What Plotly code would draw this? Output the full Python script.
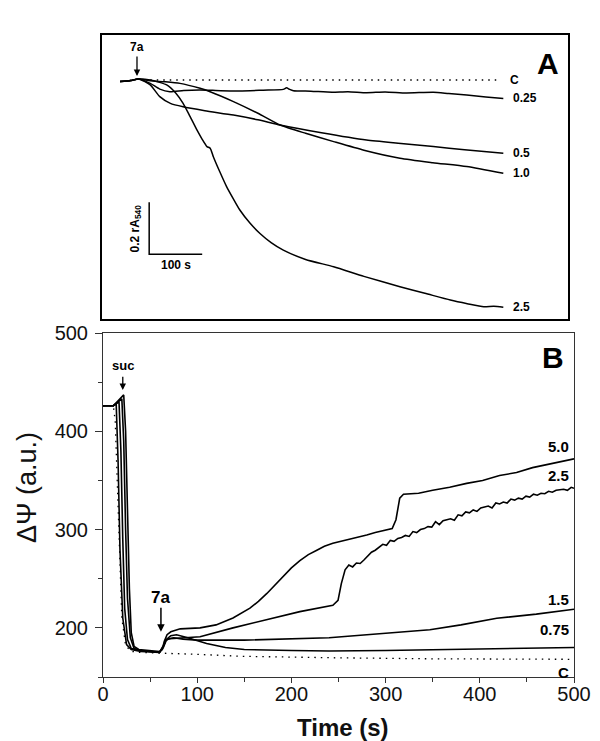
import plotly.graph_objects as go

FONT = "Arial, 'Liberation Sans', sans-serif"

# ---------------- Panel A data (time s, rA540 relative to control) ----------------
a_c_t = [57, 717]
a_c_y = [0.0, 0.0]

a_025_t = [0, 20, 35, 57, 75, 94, 120, 151, 190, 226, 270, 308, 314, 320, 327, 360, 400, 430, 465, 500, 540, 591, 620, 654, 690, 723]
a_025_y = [-0.006, -0.002, 0.004, -0.013, -0.035, -0.045, -0.040, -0.038, -0.041, -0.042, -0.039, -0.036, -0.030, -0.036, -0.041, -0.043, -0.047, -0.045, -0.049, -0.046, -0.050, -0.047, -0.052, -0.058, -0.065, -0.071]

a_05_t = [0, 20, 35, 57, 75, 95, 119, 160, 214, 260, 302, 380, 465, 530, 591, 650, 723]
a_05_y = [-0.006, -0.002, 0.004, -0.019, -0.064, -0.090, -0.103, -0.118, -0.135, -0.153, -0.173, -0.203, -0.231, -0.244, -0.256, -0.268, -0.282]

a_10_t = [0, 20, 35, 57, 85, 113, 151, 170, 214, 260, 302, 350, 403, 460, 528, 590, 654, 723]
a_10_y = [-0.006, -0.002, 0.004, -0.003, -0.007, -0.013, -0.032, -0.045, -0.083, -0.128, -0.173, -0.205, -0.237, -0.270, -0.301, -0.318, -0.333, -0.359]

a_25_t = [0, 20, 35, 57, 88, 105, 119, 132, 145, 155, 164, 170, 176, 188, 201, 214, 226, 245, 264, 285, 308, 350, 403, 460, 528, 575, 623, 655, 686, 705, 723]
a_25_y = [-0.006, -0.002, 0.004, 0.000, -0.019, -0.050, -0.090, -0.140, -0.192, -0.228, -0.256, -0.262, -0.295, -0.352, -0.410, -0.458, -0.500, -0.550, -0.590, -0.625, -0.654, -0.690, -0.718, -0.755, -0.795, -0.820, -0.846, -0.860, -0.872, -0.870, -0.874]

a_series = [("C", a_c_t, a_c_y, True), ("0.25", a_025_t, a_025_y, False),
            ("0.5", a_05_t, a_05_y, False), ("1.0", a_10_t, a_10_y, False),
            ("2.5", a_25_t, a_25_y, False)]

scale_t0, scale_len_t = 55, 100      # 100 s bar
scale_y0, scale_len_y = -0.67, 0.2   # 0.2 rA540 bar

# ---------------- Panel B data (time s, delta psi a.u.) ----------------
b_50_t = [0, 11, 22, 24, 26, 28, 30, 33, 38, 50, 60, 63, 65, 68, 72, 82, 103, 120, 138, 156, 165, 174, 183, 191, 200, 209, 218, 227, 235, 244, 253, 262, 271, 280, 289, 297, 307, 311, 315, 319, 335, 350, 368, 386, 403, 421, 439, 456, 470, 485, 500]
b_50_v = [426, 426, 437, 400, 320, 240, 195, 181, 178, 177, 176, 178, 186, 193, 196, 199, 200, 203, 210, 220, 227, 235, 244, 253, 261, 268.5, 274.5, 279, 283, 286, 288, 290, 292, 294.5, 297, 299, 301, 310, 332, 336, 337, 340, 343, 347, 350, 355, 358, 363, 366, 369, 372]

b_25_t = [0, 11, 20, 22, 24, 26, 29, 33, 40, 50, 60, 64, 67, 71, 103, 138, 174, 209, 244, 249.5, 253,
          257, 261, 265, 269, 273, 277, 281, 285, 289, 293, 297, 301, 305, 309, 313, 317, 321, 325, 329, 333,
          337, 341, 345, 349, 353, 357, 361, 365, 369, 373, 377, 381, 385, 389, 393, 397, 401, 405, 409, 413,
          417, 421, 425, 429, 433, 437, 441, 445, 449, 453, 457, 461, 465, 469, 473, 477, 481, 485, 489, 493, 497, 500]
b_25_v = [426, 426, 433, 390, 300, 230, 190, 179, 177, 176, 175, 181, 188, 189, 191, 200, 208, 216.5, 223, 228, 245,
          259, 264, 262, 266, 265.5, 269, 273, 277, 279, 282, 285, 284, 289, 288, 291, 292, 294, 293, 298, 297,
          300, 301, 303, 302.5, 308, 305, 309, 310, 311, 309.5, 315, 314, 318, 317, 320, 318.5, 322, 323, 324, 322,
          327, 326, 328, 327, 331, 330, 332, 331, 334, 333, 336, 335, 337, 336.5, 339, 338, 340, 340.5, 341, 340, 343, 342]

b_15_t = [0, 11, 17, 19, 21, 23, 26, 30, 40, 50, 60, 64, 67, 70, 75, 85, 100, 150, 200, 240, 280, 320, 347, 380, 418, 460, 500]
b_15_v = [426, 426, 430, 380, 290, 220, 188, 179, 177, 176, 175, 180, 187, 189, 190, 188.5, 187.5, 187.5, 188.5, 190, 193, 196, 198, 203, 209.7, 214, 219]

b_075_t = [0, 11, 14, 16, 18, 21, 25, 30, 40, 50, 60, 64, 67, 72, 78, 90, 110, 130, 150, 200, 240, 300, 400, 500]
b_075_v = [426, 426, 428, 370, 280, 210, 183, 178, 176, 175.5, 175, 182, 188, 192, 193, 190, 184, 180, 178, 177, 176.5, 177, 178.5, 180]

b_c_t = [0, 11, 13, 15, 17, 20, 24, 30, 40, 60, 70, 100, 150, 250, 350, 500]
b_c_v = [426, 426, 410, 350, 280, 210, 182, 176, 175, 174, 174, 173, 171, 169.5, 168.5, 168]

b_series = [("5.0", b_50_t, b_50_v, False, 7), ("2.5", b_25_t, b_25_v, False, 7),
            ("1.5", b_15_t, b_15_v, False, 4), ("0.75", b_075_t, b_075_v, False, 13),
            ("C", b_c_t, b_c_v, True, -8)]

x_ticks = [0, 100, 200, 300, 400, 500]
y_ticks = [200, 300, 400, 500]

DOT = "1.5px,5px"

# page geometry (browser body has an 8px margin)
W, H, OFF = 592, 733, 8


def px(x):
    return (x - OFF) / W


def py(y):
    return 1 - (y - OFF) / H


fig = go.Figure()

# Panel A traces
for name, t, y, dotted in a_series:
    fig.add_trace(go.Scatter(
        x=t, y=y, mode="lines", xaxis="x2", yaxis="y2", showlegend=False,
        line=dict(color="black", width=1.3 if dotted else 1.5, dash=DOT if dotted else "solid",
                  shape="linear" if dotted else "spline", smoothing=0.6)))
    fig.add_annotation(x=t[-1], y=y[-1], xref="x2", yref="y2", text="<b>%s</b>" % name,
                       showarrow=False, xanchor="left", yanchor="middle", xshift=8,
                       font=dict(family=FONT, size=12, color="black"))

# scale bar
fig.add_trace(go.Scatter(
    x=[scale_t0, scale_t0, scale_t0 + scale_len_t],
    y=[scale_y0 + scale_len_y, scale_y0, scale_y0],
    mode="lines", xaxis="x2", yaxis="y2", showlegend=False,
    line=dict(color="black", width=1.5)))
fig.add_annotation(x=scale_t0, y=scale_y0 + scale_len_y / 2, xref="x2", yref="y2",
                   text="<b>0.2 rA<sub>540</sub></b>", textangle=-90, showarrow=False,
                   xanchor="right", xshift=-3, font=dict(family=FONT, size=12, color="black"))
fig.add_annotation(x=scale_t0 + scale_len_t / 2, y=scale_y0, xref="x2", yref="y2",
                   text="<b>100 s</b>", showarrow=False, yanchor="top", yshift=-2,
                   font=dict(family=FONT, size=12, color="black"))

# 7a arrow panel A
fig.add_annotation(x=32, y=0.015, ax=32, ay=0.096, xref="x2", yref="y2", axref="x2", ayref="y2",
                   text="", showarrow=True, arrowhead=2, arrowsize=1, arrowwidth=1.3, arrowcolor="black")
fig.add_annotation(x=32, y=0.127, xref="x2", yref="y2", text="<b>7a</b>", showarrow=False,
                   font=dict(family=FONT, size=12, color="black"))
fig.add_annotation(x=px(548), y=py(63), xref="paper", yref="paper", text="<b>A</b>", showarrow=False,
                   xanchor="center", yanchor="middle", font=dict(family=FONT, size=30, color="black"))

# Panel B traces
for name, t, v, dotted, ys in b_series:
    fig.add_trace(go.Scatter(
        x=t, y=v, mode="lines", xaxis="x", yaxis="y", showlegend=False,
        line=dict(color="black", width=1.3 if dotted else 1.6, dash=DOT if dotted else "solid")))
    fig.add_annotation(x=t[-1], y=v[-1], xref="x", yref="y", text="<b>%s</b>" % name,
                       showarrow=False, xanchor="right", yanchor="bottom" if ys > 0 else "top",
                       xshift=-3, yshift=ys - (5 if ys > 0 else -5),
                       font=dict(family=FONT, size=15, color="black"))

fig.add_annotation(x=21, y=442, ax=21, ay=457, xref="x", yref="y", axref="x", ayref="y",
                   text="", showarrow=True, arrowhead=2, arrowsize=1, arrowwidth=1.3, arrowcolor="black")
fig.add_annotation(x=21, y=467, xref="x", yref="y", text="<b>suc</b>", showarrow=False,
                   font=dict(family=FONT, size=13, color="black"))
fig.add_annotation(x=61.5, y=196, ax=61.5, ay=222, xref="x", yref="y", axref="x", ayref="y",
                   text="", showarrow=True, arrowhead=2, arrowsize=1, arrowwidth=1.5, arrowcolor="black")
fig.add_annotation(x=61.5, y=231, xref="x", yref="y", text="<b>7a</b>", showarrow=False,
                   font=dict(family=FONT, size=17, color="black"))
fig.add_annotation(x=px(553), y=py(357), xref="paper", yref="paper", text="<b>B</b>", showarrow=False,
                   xanchor="center", yanchor="middle", font=dict(family=FONT, size=30, color="black"))

# axis titles
fig.add_annotation(x=px(27), y=py(488), xref="paper", yref="paper", text="ΔΨ (a.u.)", textangle=-90,
                   showarrow=False, xanchor="center", yanchor="middle",
                   font=dict(family=FONT, size=27, color="#111"))
fig.add_annotation(x=px(343), y=py(727), xref="paper", yref="paper", text="<b>Time (s)</b>",
                   showarrow=False, xanchor="center", yanchor="middle",
                   font=dict(family=FONT, size=24, color="#111"))

fig.update_layout(
    width=W, height=H, margin=dict(l=0, r=0, t=0, b=0),
    paper_bgcolor="white", plot_bgcolor="white", showlegend=False,
    xaxis=dict(domain=[px(103), px(574)], range=[0, 500], anchor="y",
               tickvals=x_ticks, ticks="outside", ticklen=5, tickwidth=1, tickcolor="#333",
               minor=dict(dtick=50, tick0=0, ticks="outside", ticklen=4, tickcolor="#333"),
               showline=True, linecolor="#333", linewidth=1, mirror=True,
               showgrid=False, zeroline=False, automargin=False, ticklabelstandoff=-6,
               tickfont=dict(family=FONT, size=20, color="#111")),
    yaxis=dict(domain=[py(677), py(333)], range=[150, 500], anchor="x",
               tickvals=y_ticks, ticks="outside", ticklen=7, tickwidth=1, tickcolor="#333",
               minor=dict(dtick=50, tick0=0, ticks="outside", ticklen=4, tickcolor="#333"),
               showline=True, linecolor="#333", linewidth=1, mirror=True,
               showgrid=False, zeroline=False, automargin=False, ticklabelstandoff=3,
               tickfont=dict(family=FONT, size=20, color="#111")),
    xaxis2=dict(domain=[px(102), px(568)], range=[-34, 845], anchor="y2",
                showticklabels=False, ticks="", showgrid=False, zeroline=False,
                showline=True, mirror=True, linecolor="black", linewidth=2),
    yaxis2=dict(domain=[py(319), py(35)], range=[-0.919, 0.173], anchor="x2",
                showticklabels=False, ticks="", showgrid=False, zeroline=False,
                showline=True, mirror=True, linecolor="black", linewidth=2),
)

fig.write_html("out.html")
